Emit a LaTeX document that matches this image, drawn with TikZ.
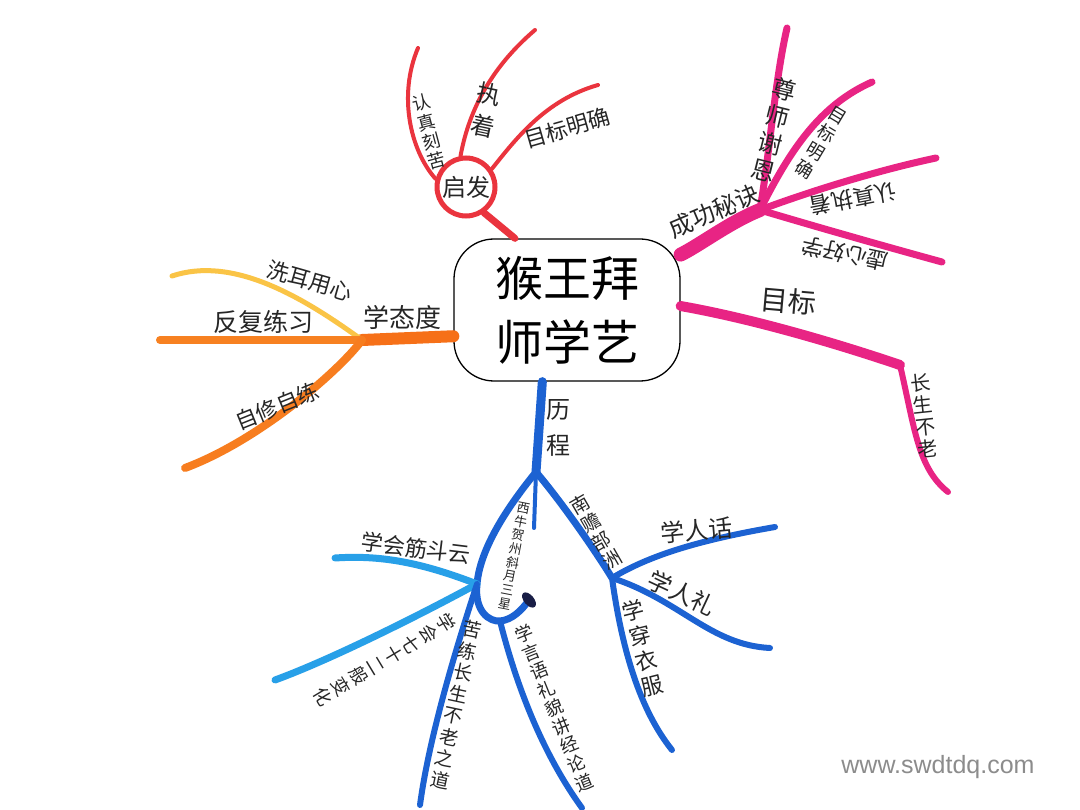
\documentclass[tikz,border=0pt]{standalone}
\usepackage{fontspec}
\newfontfamily\cjk{Noto Sans CJK SC}
\newfontfamily\wmfont{Liberation Sans}
\usepackage{tikz}
\usetikzlibrary{positioning}
\definecolor{hongse}{RGB}{234,52,62}
\definecolor{fense}{RGB}{232,36,132}
\definecolor{chengse}{RGB}{246,112,24}
\definecolor{huangse}{RGB}{250,196,70}
\definecolor{lanse}{RGB}{28,98,210}
\definecolor{qianlan}{RGB}{40,160,232}
\definecolor{moshui}{RGB}{25,30,70}
\tikzset{
    monkey map/.style={
            x=1pt,y=-1pt,
            branch/.style={line cap=round, line join=round},
            lbl/.style={font=\cjk\fontsize{24}{26}\selectfont, text=black!85, inner sep=0pt},
            col/.style={lbl, align=center}
        }
    }

\begin{document}
\begin{tikzpicture}[monkey map]
                \useasboundingbox [fill=white] (0,0) rectangle (1080,810);
                % centre
                \node (title) [draw, line width=1.3pt, rounded corners=40pt, minimum width=226, minimum height=142,
                    font=\cjk\fontsize{48}{64}\selectfont, align=center] at (567,310) {猴王拜\\师学艺};
                % qifa (red)
                \node (qifa) [lbl, circle, draw=hongse, fill=white, line width=5pt, minimum size=58] at (466,187) {启发};
                \coordinate (qa) at (418,48);
                \coordinate (qb) at (535,30);
                \coordinate (qc) at (598,85);
                \draw [branch, hongse, line width=7pt] (qifa.-55) -- (title.126);
                \draw [branch, hongse, line width=4pt] (qifa.165) .. controls (410,150) and (398,95) .. (qa);
                \draw [branch, hongse, line width=4pt] (qifa.100) .. controls (468,115) and (488,70) .. (qb);
                \draw [branch, hongse, line width=4pt] (qifa.35) .. controls (515,140) and (545,100) .. (qc);
                \node (renzhen) [col, rotate=15, font=\cjk\fontsize{18}{20}\selectfont] at (429,132) {认\\真\\刻\\苦};
                \node (zhizhuo) [col, rotate=-12, font=\cjk\fontsize{24}{32}\selectfont] at (486,110) {执\\着};
                \node (mubiao1) [lbl, rotate=16, font=\cjk\fontsize{22}{24}\selectfont] at (567,128) {目标明确};
                % chenggong mijue (pink)
                \coordinate (cg) at (760,210);
                \coordinate (pa) at (787,28);
                \coordinate (pb) at (872,82);
                \coordinate (pc) at (936,158);
                \coordinate (pd) at (942,262);
                \draw [branch, fense, line width=14pt] (title.26) .. controls (700,245) and (730,222) .. (cg);
                \draw [branch, fense, line width=7pt] (cg) .. controls (770,150) and (775,80) .. (pa);
                \draw [branch, fense, line width=7pt] (cg) .. controls (790,150) and (820,105) .. (pb);
                \draw [branch, fense, line width=7pt] (cg) .. controls (800,195) and (870,172) .. (pc);
                \draw [branch, fense, line width=7pt] (cg) .. controls (810,225) and (880,245) .. (pd);
                \node (mijue) [lbl, rotate=23] at (714,211) {成功秘诀};
                \node (zunshi) [col, rotate=-14, font=\cjk\fontsize{24}{28}\selectfont] at (774,130) {尊\\师\\谢\\恩};
                \node (mubiao2) [col, rotate=-31, font=\cjk\fontsize{18}{21}\selectfont] at (821,143) {目\\标\\明\\确};
                \node (zhizhuo2) [lbl, rotate=191, font=\cjk\fontsize{22}{24}\selectfont] at (853,199) {认真执着};
                \node (haoxue) [lbl, rotate=168, font=\cjk\fontsize{22}{24}\selectfont] at (845,254) {虚心好学};
                % mubiao (pink)
                \coordinate (ga) at (900,365);
                \coordinate (gb) at (948,492);
                \draw [branch, fense, line width=10pt] (title.2) .. controls (760,320) and (850,348) .. (ga);
                \draw [branch, fense, line width=6pt] (ga) .. controls (915,430) and (918,468) .. (gb);
                \node (mubiao) [lbl, rotate=-5, font=\cjk\fontsize{28}{30}\selectfont] at (788,301) {目标};
                \node (changsheng) [col, rotate=6, font=\cjk\fontsize{20}{22}\selectfont] at (924,416) {长\\生\\不\\老};
                % xue taidu (orange)
                \coordinate (og) at (362,340);
                \coordinate (oa) at (172,276);
                \coordinate (ob) at (160,340);
                \coordinate (oc) at (185,468);
                \draw [branch, chengse, line width=12pt] (title.193) -- (og);
                \draw [branch, huangse, line width=5pt] (og) .. controls (300,295) and (232,256) .. (oa);
                \draw [branch, chengse!80!huangse, line width=8pt] (og) -- (ob);
                \draw [branch, chengse!85!huangse, line width=8pt] (og) .. controls (340,370) and (260,440) .. (oc);
                \node (taidu) [lbl, font=\cjk\fontsize{26}{28}\selectfont] at (402,318) {学态度};
                \node (xier) [lbl, rotate=-16, font=\cjk\fontsize{22}{24}\selectfont] at (310,281) {洗耳用心};
                \node (fanfu) [lbl, font=\cjk\fontsize{25}{28}\selectfont] at (263,322) {反复练习};
                \node (zixiu) [lbl, rotate=22, font=\cjk\fontsize{22}{24}\selectfont] at (277,406) {自修自练};
                % licheng (blue)
                \coordinate (lg) at (536,472);
                \coordinate (xj) at (477,584);
                \coordinate (xh) at (500,621);
                \coordinate (xt) at (529,600);
                \coordinate (nj) at (612,578);
                \draw [branch, lanse, line width=9pt] (title.-109) -- (lg);
                \draw [branch, lanse, line width=4pt] (lg) -- (534,528);
                \draw [branch, lanse, line width=7pt] (lg) .. controls (505,510) and (480,550) .. (xj)
                    .. controls (474,612) and (490,622) .. (xh) .. controls (512,620) and (522,610) .. (xt);
                \fill [moshui, rotate around={-50:(xt)}] (xt) ellipse [x radius=9, y radius=5];
                \draw [branch, lanse, line width=7pt] (lg) .. controls (560,500) and (595,550) .. (nj);
                \node (licheng) [col, font=\cjk\fontsize{24}{36}\selectfont] at (558,428) {历\\程};
                \node (xiniu) [col, rotate=-11, font=\cjk\fontsize{13}{14}\selectfont] at (514,556) {西\\牛\\贺\\州\\斜\\月\\三\\星};
                \node (nanzhan) [col, rotate=30, font=\cjk\fontsize{19}{21}\selectfont] at (596,532) {南\\赡\\部\\洲};
                % xiniu hezhou
                \coordinate (xa) at (335,558);
                \coordinate (xb) at (275,680);
                \coordinate (xc) at (420,805);
                \coordinate (xd) at (582,808);
                \draw [branch, qianlan, line width=7pt] (xj) .. controls (420,562) and (380,555) .. (xa);
                \draw [branch, qianlan, line width=7pt] (xj) .. controls (420,615) and (330,660) .. (xb);
                \draw [branch, lanse, line width=6pt] (xj) .. controls (462,630) and (430,730) .. (xc);
                \draw [branch, lanse, line width=6pt] (xh) .. controls (515,680) and (540,750) .. (xd);
                \node (jindou) [lbl, rotate=-7, font=\cjk\fontsize{22}{24}\selectfont] at (416,548) {学会筋斗云};
                \node (qishier) [col, rotate=-59, font=\cjk\fontsize{18}{20.5}\selectfont] at (385,660) {学\\会\\七\\十\\二\\般\\变\\化};
                \node (kulian) [col, rotate=-12, font=\cjk\fontsize{19}{22}\selectfont] at (456,705) {苦\\练\\长\\生\\不\\老\\之\\道};
                \node (yanyu) [col, rotate=22, font=\cjk\fontsize{18}{20}\selectfont] at (554,708) {学\\言\\语\\礼\\貌\\讲\\经\\论\\道};
                % nanzhan buzhou
                \coordinate (na) at (775,527);
                \coordinate (nb) at (770,648);
                \coordinate (nc) at (672,750);
                \draw [branch, lanse, line width=6pt] (nj) .. controls (650,555) and (700,540) .. (na);
                \draw [branch, lanse, line width=6pt] (nj) .. controls (680,600) and (710,645) .. (nb);
                \draw [branch, lanse, line width=6pt] (nj) .. controls (622,650) and (640,710) .. (nc);
                \node (renhua) [lbl, rotate=5] at (697,530) {学人话};
                \node (renli) [lbl, rotate=-25] at (682,593) {学人礼};
                \node (yifu) [col, rotate=14, font=\cjk\fontsize{22}{26}\selectfont] at (643,648) {学\\穿\\衣\\服};
                % watermark
                \node (wm) [font=\wmfont\fontsize{25}{28}\selectfont, text=black!45] at (938,767) {www.swdtdq.com};
            \end{tikzpicture}
\end{document}
